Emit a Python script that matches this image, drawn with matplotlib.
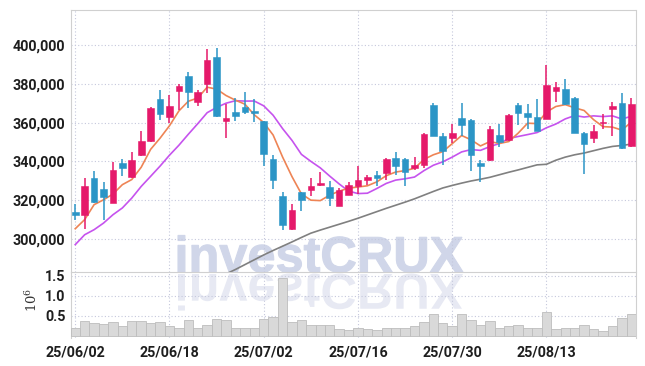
import numpy as np
import matplotlib
matplotlib.use('Agg')
import matplotlib.pyplot as plt
from matplotlib.textpath import TextPath
from matplotlib.patches import PathPatch
from matplotlib.font_manager import FontProperties
from matplotlib.transforms import Affine2D
from matplotlib.ticker import FuncFormatter

# daily candles (KRW)
opens = [313700, 312200, 331600, 325900, 318500, 339300, 331700, 343100, 350300, 372200,
         363100, 376500, 384100, 370800, 379900, 393800, 360600, 365500, 367900, 366200,
         360700, 341300, 322300, 305200, 324200, 325100, 327600, 326900, 316800, 322700,
         327100, 330200, 332800, 334100, 341800, 341300, 336700, 338100, 368800, 353200,
         352300, 362400, 361400, 339300, 340500, 353700, 350800, 369100, 365000, 363000,
         361900, 376500, 377400, 372900, 354700, 351800, 359900, 367200, 370200, 347700]
highs = [318000, 331200, 335000, 329300, 339500, 341200, 344600, 355900, 367800, 376700,
         374400, 379900, 386100, 376800, 397800, 398300, 369600, 372700, 375800, 372000,
         360900, 343200, 324000, 318000, 324400, 331400, 334700, 329900, 326300, 329300,
         337700, 333100, 335000, 341900, 344800, 341900, 342400, 354400, 370000, 354600,
         359400, 370000, 361900, 340800, 358300, 359200, 364300, 370000, 369800, 372000,
         389700, 380800, 382500, 373100, 354900, 358500, 364300, 370800, 375100, 372400]
lows = [309600, 305300, 318500, 309600, 318300, 332600, 331500, 343000, 350000, 361400,
        359700, 366600, 367400, 368300, 375100, 362800, 352000, 360900, 364500, 360400,
        337400, 325700, 304800, 304800, 314300, 322000, 327100, 316800, 316800, 322700,
        323300, 328000, 327100, 330500, 333100, 327100, 335700, 336400, 353000, 338300,
        349400, 353200, 335000, 329200, 340300, 347300, 350600, 358800, 356600, 355700,
        361700, 370500, 369300, 354500, 333500, 349400, 356800, 353200, 346300, 347500]
closes = [312200, 327500, 318900, 321500, 335700, 336400, 340700, 350600, 367600, 364500,
          368400, 378900, 375500, 376000, 392300, 363500, 362400, 363500, 365700, 364800,
          343600, 330200, 307000, 315100, 320300, 327500, 329000, 321100, 325400, 328000,
          330500, 332100, 331200, 341300, 337400, 334300, 337900, 354200, 353200, 345600,
          354700, 359000, 343100, 337400, 356800, 349800, 364000, 364700, 363000, 355900,
          379400, 378400, 369500, 354700, 349100, 355800, 360400, 368300, 347000, 369500]
# volume, millions of shares
volumes = [0.21, 0.37, 0.33, 0.30, 0.35, 0.24, 0.37, 0.37, 0.33, 0.35,
           0.26, 0.19, 0.40, 0.19, 0.28, 0.42, 0.40, 0.21, 0.21, 0.21,
           0.42, 0.47, 1.45, 0.35, 0.41, 0.28, 0.27, 0.28, 0.18, 0.16,
           0.19, 0.18, 0.16, 0.21, 0.21, 0.21, 0.24, 0.35, 0.55, 0.33,
           0.24, 0.56, 0.40, 0.28, 0.37, 0.19, 0.26, 0.28, 0.19, 0.19,
           0.61, 0.18, 0.21, 0.21, 0.28, 0.17, 0.13, 0.24, 0.44, 0.54]
# moving average lines as drawn
ma_short = [305300, 310000, 317700, 320200, 323160, 328000, 330640, 336980, 346200, 351960,
            358360, 366000, 370980, 372660, 378220, 377240, 373940, 371540, 369480, 363980,
            360000, 353560, 342260, 332140, 323240, 320020, 319780, 322600, 324660, 326200,
            326800, 327420, 329440, 332620, 334500, 335260, 336420, 341020, 343400, 345040,
            349120, 353340, 351120, 347960, 350200, 349220, 350220, 354540, 359660, 359480,
            365400, 368280, 369240, 367580, 366220, 361500, 357900, 357660, 356120, 360200]
ma_mid = [297100, 302200, 304800, 308200, 312500, 316000, 321100, 327100, 332300, 337560,
          343180, 348320, 353980, 359430, 365090, 367800, 369970, 371260, 371070, 371100,
          368620, 363750, 356900, 350810, 343610, 340010, 336670, 332430, 328400, 324720,
          323410, 323600, 326020, 328640, 330350, 331030, 331920, 335230, 338010, 339770,
          342190, 344880, 346070, 345680, 347620, 349170, 351780, 352830, 353810, 354840,
          357310, 359250, 361890, 363620, 362850, 363450, 363090, 363450, 361850, 363210]
ma_long = [np.nan] * 16 + [
    282000, 284300, 286800, 289300, 291800, 294100, 296300, 298500, 300800, 303000,
    304600, 306100, 307600, 309100, 310700, 312400, 314100, 315800, 317400, 319000,
    320700, 322600, 324500, 326300, 327600, 328800, 329900, 330800, 331800, 333100,
    334400, 335600, 336900, 338200, 338500, 340600, 342200, 343400, 344300, 345500,
    346700, 347700, 348200, 348900]
tick_pos = [0, 10, 20, 30, 40, 50]
tick_labels = ['25/06/02', '25/06/18', '25/07/02', '25/07/16', '25/07/30', '25/08/13']

red = '#e5196a'
blue = '#2b95c6'
fnt = ['Roboto', 'DejaVu Sans']
plt.rcParams['mathtext.fontset'] = 'dejavuserif'

fig = plt.figure(figsize=(6.45, 3.66), dpi=100)
W, H = 645.0, 366.0
ax = fig.add_axes([71 / W, 1 - 272 / H, (635.5 - 71) / W, (272 - 10) / H])
axv = fig.add_axes([71 / W, 1 - 337.5 / H, (635.5 - 71) / W, (337.5 - 272) / H], sharex=ax)
ax.set_facecolor('none')
axv.set_facecolor('none')

# watermark + its reflection, in pixel coords
fp = FontProperties(family='Liberation Sans', weight='bold')
tp = TextPath((0, 0), 'investCRUX', size=1, prop=fp)
bb = tp.get_extents()
s = 285 / bb.width
x0 = 178 - bb.x0 * s
base = H - 272
fig.add_artist(PathPatch(tp, transform=Affine2D().scale(s, s).translate(x0, base),
                         facecolor='#d0d6e9', edgecolor='#d0d6e9', lw=0.8, zorder=-2))
fig.add_artist(PathPatch(tp, transform=Affine2D().scale(s, -s).translate(x0, base - 2),
                         facecolor='#e7e9f3', edgecolor='none', zorder=-2))

o = np.array(opens)
c = np.array(closes)
x = np.arange(len(c))
cols = np.where(c >= o, red, blue)

ax.plot(x, ma_long, color='#808080', lw=1.2, zorder=2)
ax.plot(x, ma_mid, color='#c653ee', lw=1.2, zorder=2)
ax.plot(x, ma_short, color='#ee8455', lw=1.2, zorder=2)
ax.vlines(x, lows, highs, colors=cols, lw=1.1, zorder=3)
ax.bar(x, np.maximum(np.abs(c - o), 350), bottom=np.minimum(o, c), width=0.7,
       color=cols, edgecolor=cols, lw=0.4, zorder=4)

axv.bar(x, volumes, width=1.0, color='#d9d9d9', edgecolor='#bdbdbd', lw=0.6, zorder=3)

ax.set_xlim(-0.45, 59.45)
ax.set_ylim(283000, 418000)
ax.set_yticks([300000, 320000, 340000, 360000, 380000, 400000])
ax.yaxis.set_major_formatter(FuncFormatter(lambda v, p: f'{int(v):,}'))
axv.set_ylim(-0.04, 1.6)
axv.set_yticks([0.5, 1.0, 1.5])
axv.yaxis.set_major_formatter(FuncFormatter(lambda v, p: f'{v:.1f}'))
ax.set_xticks(tick_pos)
axv.set_xticks(tick_pos)
axv.set_xticklabels(tick_labels)
ax.tick_params(axis='x', labelbottom=False, length=0)

for a in (ax, axv):
    a.grid(True, linestyle=(0, (1, 2)), color='#c5c8dc', lw=0.8, zorder=1)
    a.set_axisbelow(True)
    a.tick_params(axis='both', length=0, pad=4, labelsize=10.3, labelcolor='#1e1e1e')
    for lab in a.get_xticklabels() + a.get_yticklabels():
        lab.set_family(fnt)
        lab.set_fontweight('bold')
    for sp in a.spines.values():
        sp.set_color('#d0d0d0')
axv.spines['top'].set_visible(False)
axv.spines['bottom'].set_visible(False)
axv.tick_params(axis='x', pad=6)

fig.text(32 / W, 1 - 300 / H, r'$10^{6}$', rotation=90, ha='center', va='center',
         fontsize=9.5, color='#333333')

fig.savefig('out.png', dpi=100)
